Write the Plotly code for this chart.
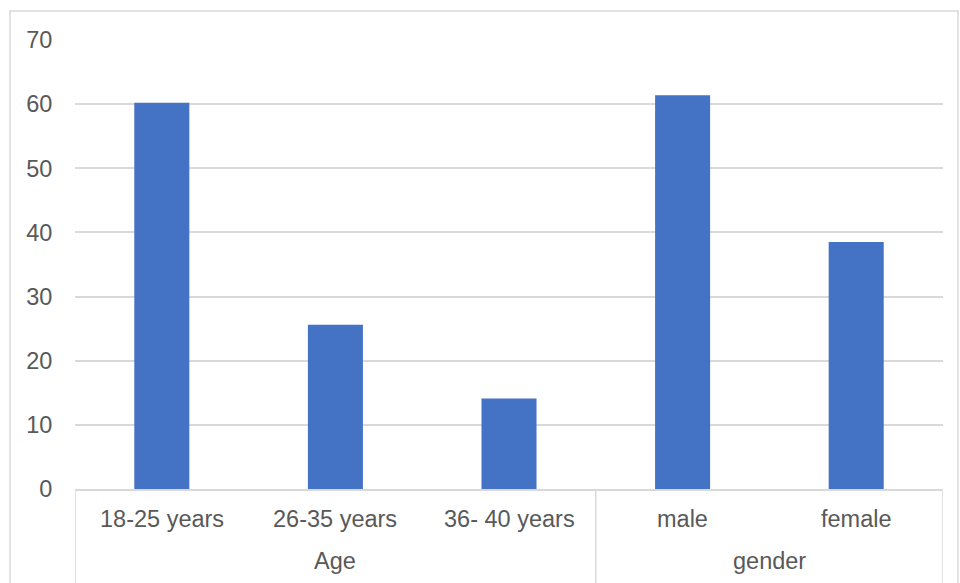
import plotly.graph_objects as go

# Survey share by group (%)
groups = ["Age", "gender"]
group_sizes = [3, 2]
categories = ["18-25 years", "26-35 years", "36- 40 years", "male", "female"]
values = [60.2, 25.6, 14.1, 61.4, 38.5]
y_ticks = [0, 10, 20, 30, 40, 50, 60, 70]

text_color = "#595959"
grid_color = "#D9D9D9"
bar_color = "#4472C4"
font_family = "Liberation Sans, Arial, sans-serif"
font_size = 23.5

fig = go.Figure(
    go.Bar(
        x=categories,
        y=values,
        marker=dict(color=bar_color, line=dict(width=0)),
    )
)

W, H = 960, 583
L, R, T, B = 75, 17, 40, 94
pw = W - L - R
ph = H - T - B


def py(pixel_y):
    """Convert a pixel row of the page to paper y."""
    return (T + ph - pixel_y) / ph


fig.update_layout(
    width=W,
    height=H,
    margin=dict(l=L, r=R, t=T, b=B),
    paper_bgcolor="white",
    plot_bgcolor="white",
    bargap=0.683,
    showlegend=False,
    font=dict(family=font_family, size=font_size, color=text_color),
)

fig.update_xaxes(
    type="category",
    range=[-0.5, len(categories) - 0.5],
    showline=True,
    linecolor=grid_color,
    linewidth=1.5,
    showgrid=False,
    showticklabels=False,
    ticks="",
)

fig.update_yaxes(
    range=[0, 70],
    tickvals=y_ticks,
    showgrid=True,
    gridcolor=grid_color,
    gridwidth=1.5,
    zeroline=False,
    showline=False,
    ticks="outside",
    ticklen=17,
    tickcolor="rgba(0,0,0,0)",
    tickfont=dict(family=font_family, size=font_size, color=text_color),
)

# Category labels (first level)
for i, name in enumerate(categories):
    fig.add_annotation(
        x=i, xref="x", y=py(519), yref="paper",
        text=name, showarrow=False, yanchor="middle",
        font=dict(family=font_family, size=font_size, color=text_color),
    )

# Group labels (second level) and dividers
start = 0
edges = [-0.5]
for name, n in zip(groups, group_sizes):
    centre = start + (n - 1) / 2
    fig.add_annotation(
        x=centre, xref="x", y=py(561), yref="paper",
        text=name, showarrow=False, yanchor="middle",
        font=dict(family=font_family, size=font_size, color=text_color),
    )
    start += n
    edges.append(start - 0.5)

for e in edges:
    fig.add_shape(
        type="line", xref="x", yref="paper",
        x0=e, x1=e, y0=0, y1=py(600),
        line=dict(color=grid_color, width=1.5),
    )

# Outer chart border
fig.add_shape(
    type="rect",
    xref="paper",
    yref="paper",
    x0=(10 - L) / pw,
    x1=(958 - L) / pw,
    y0=py(600),
    y1=py(11),
    line=dict(color=grid_color, width=1.5),
    fillcolor="rgba(0,0,0,0)",
    layer="below",
)

fig.write_html("out.html")
